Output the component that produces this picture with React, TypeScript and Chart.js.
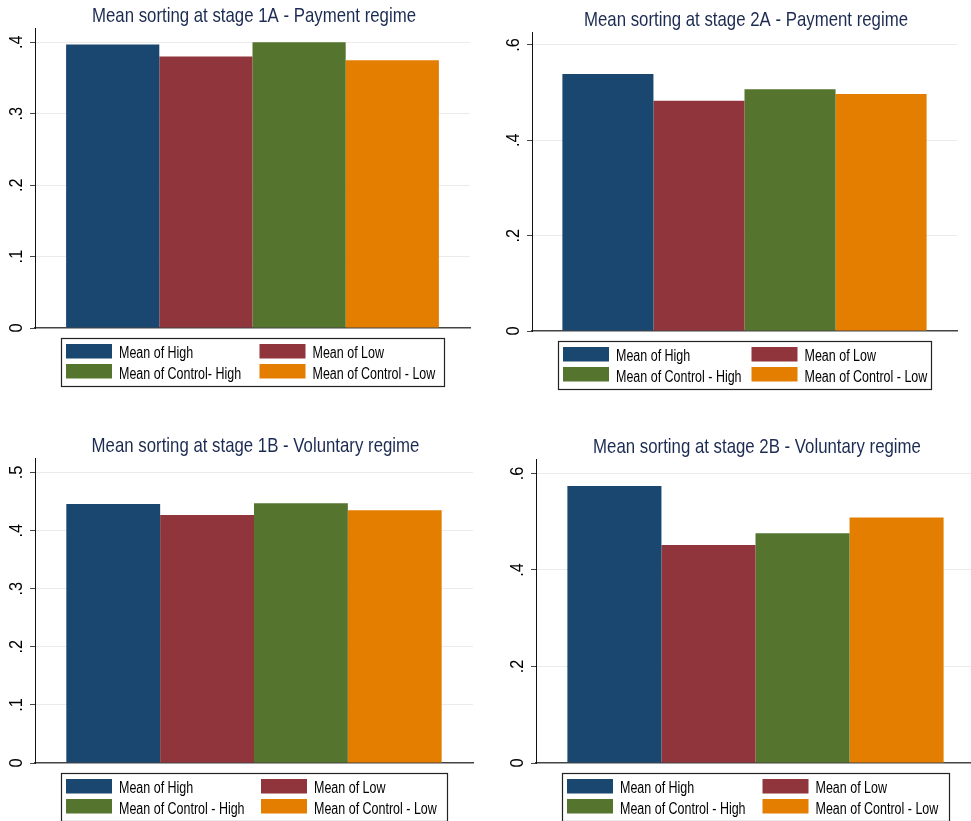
import React, { useEffect, useRef } from 'react';
import { Chart, registerables } from 'chart.js';
Chart.register(...registerables);

// ---------- data ----------
const CATEGORY = ['Mean sorting'];

const TITLE_1A = 'Mean sorting at stage 1A - Payment regime';
const TITLE_2A = 'Mean sorting at stage 2A - Payment regime';
const TITLE_1B = 'Mean sorting at stage 1B - Voluntary regime';
const TITLE_2B = 'Mean sorting at stage 2B - Voluntary regime';

const SERIES_1A = ['Mean of High', 'Mean of Low', 'Mean of Control- High', 'Mean of Control - Low'];
const SERIES = ['Mean of High', 'Mean of Low', 'Mean of Control - High', 'Mean of Control - Low'];

const VALUES_1A = [0.397, 0.380, 0.400, 0.375];
const VALUES_2A = [0.539, 0.483, 0.507, 0.497];
const VALUES_1B = [0.446, 0.427, 0.447, 0.435];
const VALUES_2B = [0.574, 0.452, 0.476, 0.509];

const TICKS_1A = [0, 0.1, 0.2, 0.3, 0.4];
const TICK_LABELS_1A = ['0', '.1', '.2', '.3', '.4'];
const TICKS_2A = [0, 0.2, 0.4, 0.6];
const TICK_LABELS_2A = ['0', '.2', '.4', '.6'];
const TICKS_1B = [0, 0.1, 0.2, 0.3, 0.4, 0.5];
const TICK_LABELS_1B = ['0', '.1', '.2', '.3', '.4', '.5'];
const TICKS_2B = [0, 0.2, 0.4, 0.6];
const TICK_LABELS_2B = ['0', '.2', '.4', '.6'];

const YMAX_1A = 0.42;
const YMAX_2A = 0.627;
const YMAX_1B = 0.525;
const YMAX_2B = 0.63;

// ---------- styles ----------
const COLORS = ['#1a476f', '#90353b', '#55752f', '#e37e00'];
const FONT = '"Liberation Sans", Arial, Helvetica, sans-serif';
const NARROW = 0.8;

type PanelProps = {
  left: number; top: number; width: number; height: number;
  pad: { left: number; top: number; right: number; bottom: number };
  yWidth: number;
  title: string; series: string[]; values: number[];
  ticks: number[]; tickLabels: string[]; ymax: number;
};

function makeDecor(p: PanelProps) {
  return {
    id: 'decor',
    afterDraw(chart: any) {
      const ctx = chart.ctx as CanvasRenderingContext2D;
      const ca = chart.chartArea;
      const ys = chart.scales.y;
      // title
      ctx.save();
      ctx.fillStyle = '#1c2b52';
      ctx.font = `21px ${FONT}`;
      ctx.textAlign = 'center';
      ctx.textBaseline = 'alphabetic';
      ctx.translate((ca.left + ca.right) / 2 + 1.5, ca.top - 6);
      ctx.scale(NARROW, 1);
      ctx.fillText(p.title, 0, 0);
      ctx.restore();
      // tick labels (rotated)
      p.ticks.forEach((v, i) => {
        const y = ys.getPixelForValue(v);
        ctx.save();
        ctx.translate(ca.left - 13.5, y);
        ctx.rotate(-Math.PI / 2);
        ctx.scale(0.86, 1);
        ctx.font = `19px ${FONT}`;
        ctx.fillStyle = '#000';
        ctx.textAlign = 'center';
        ctx.textBaseline = 'alphabetic';
        ctx.fillText(p.tickLabels[i], 0, 0);
        ctx.restore();
      });
      // legend
      const bx = ca.left + 26;
      const bw = ca.right - 26 - bx;
      const by = ca.bottom + 10;
      const bh = 48;
      ctx.save();
      ctx.fillStyle = '#fff';
      ctx.fillRect(bx, by, bw, bh);
      ctx.strokeStyle = '#222';
      ctx.lineWidth = 1.2;
      ctx.strokeRect(bx + 0.5, by + 0.5, bw, bh);
      const ds = chart.data.datasets;
      ds.forEach((d: any, i: number) => {
        const col = i % 2;
        const row = Math.floor(i / 2);
        const sx = bx + 5 + col * ((bw - 10) / 2 + 7);
        const sy = by + 6 + row * 20;
        ctx.fillStyle = d.backgroundColor;
        ctx.fillRect(sx, sy, 46, 14.5);
        ctx.save();
        ctx.translate(sx + 46 + 7, by + 20 + row * 21);
        ctx.scale(0.78, 1);
        ctx.font = `16px ${FONT}`;
        ctx.fillStyle = '#000';
        ctx.textAlign = 'left';
        ctx.textBaseline = 'alphabetic';
        ctx.fillText(d.label, 0, 0);
        ctx.restore();
      });
      ctx.restore();
    },
  };
}

function Panel(p: PanelProps) {
  const ref = useRef<HTMLCanvasElement>(null);
  useEffect(() => {
    if (!ref.current) return;
    const chart = new Chart(ref.current, {
      type: 'bar',
      data: {
        labels: CATEGORY,
        datasets: p.series.map((s, i) => ({
          label: s,
          data: [p.values[i]],
          backgroundColor: COLORS[i],
          borderWidth: 0,
          barPercentage: 1,
          categoryPercentage: 0.857,
        })),
      },
      options: {
        responsive: false,
        animation: false,
        devicePixelRatio: 1,
        layout: { padding: p.pad },
        plugins: {
          legend: { display: false },
          title: { display: false },
          tooltip: { enabled: false },
        },
        scales: {
          x: {
            z: 1,
            grid: { display: false },
            ticks: { display: false },
            border: { display: true, color: '#444', width: 1.5 },
            afterFit: (s: any) => { s.height = 0; },
          },
          y: {
            min: 0,
            max: p.ymax,
            afterBuildTicks: (s: any) => { s.ticks = p.ticks.map((v) => ({ value: v })); },
            afterFit: (s: any) => { s.width = p.yWidth; },
            ticks: { display: false },
            grid: {
              color: (c: any) => (c.tick && c.tick.value === 0 ? 'rgba(0,0,0,0)' : '#ebebeb'),
              tickColor: '#444',
              tickLength: 5,
              lineWidth: 1,
            },
            border: { display: true, color: '#111', width: 1 },
          },
        },
      },
      plugins: [makeDecor(p)],
    } as any);
    return () => chart.destroy();
  }, []);
  return (
    <canvas
      ref={ref}
      width={p.width}
      height={p.height}
      style={{ position: 'absolute', left: p.left, top: p.top, width: p.width, height: p.height }}
    />
  );
}

export default function App() {
  return (
    <div style={{ position: 'fixed', left: 0, top: 0, width: 971, height: 821, overflow: 'hidden', background: '#fff' }}>
      <Panel left={0} top={0} width={485} height={410}
        pad={{ left: 0, top: 28, right: 15, bottom: 82 }} yWidth={35}
        title={TITLE_1A} series={SERIES_1A} values={VALUES_1A}
        ticks={TICKS_1A} tickLabels={TICK_LABELS_1A} ymax={YMAX_1A} />
      <Panel left={485} top={0} width={486} height={410}
        pad={{ left: 0, top: 32, right: 14, bottom: 79 }} yWidth={47}
        title={TITLE_2A} series={SERIES} values={VALUES_2A}
        ticks={TICKS_2A} tickLabels={TICK_LABELS_2A} ymax={YMAX_2A} />
      <Panel left={0} top={410} width={485} height={411}
        pad={{ left: 0, top: 48, right: 12, bottom: 58 }} yWidth={35}
        title={TITLE_1B} series={SERIES} values={VALUES_1B}
        ticks={TICKS_1B} tickLabels={TICK_LABELS_1B} ymax={YMAX_1B} />
      <Panel left={485} top={410} width={505} height={411}
        pad={{ left: 0, top: 49, right: 15, bottom: 58 }} yWidth={51}
        title={TITLE_2B} series={SERIES} values={VALUES_2B}
        ticks={TICKS_2B} tickLabels={TICK_LABELS_2B} ymax={YMAX_2B} />
    </div>
  );
}
